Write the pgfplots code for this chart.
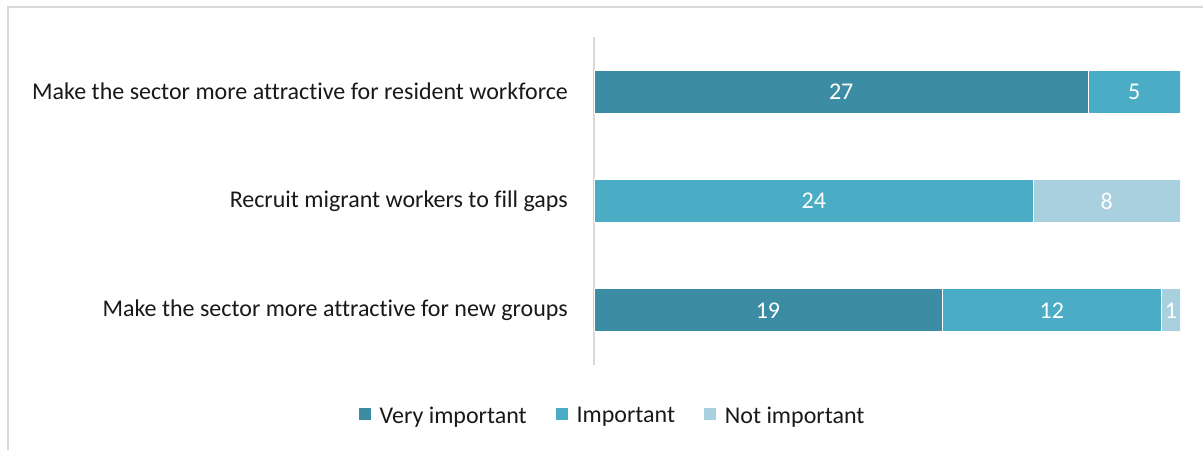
\documentclass[border=0pt]{standalone}
\usepackage{pgfplots}
\usepackage{pgfplotstable}
\pgfplotsset{compat=1.18}
\usepackage{fontspec}
\setmainfont[Ligatures=NoCommon]{Carlito}
\definecolor{cVery}{HTML}{3C8DA3}
\definecolor{cImp}{HTML}{4BACC6}
\definecolor{cNot}{HTML}{A9D0DE}
\definecolor{frame}{HTML}{D9D9D9}
\pgfplotstableread{
y v
0 27
1 0
2 19
}\tVery
\pgfplotstableread{
y v
0 5
1 24
2 12
}\tImp
\pgfplotstableread{
y v
0 0
1 8
2 1
}\tNot
\begin{document}
\begin{tikzpicture}[x=1pt,y=1pt]
\useasboundingbox (0,0) rectangle (1203,450);
\fill[white] (0,0) rectangle (1203,450);
\draw[frame,line width=1.2pt] (8,0) -- (8,443) -- (1203,443);
\begin{axis}[
  at={(594pt,85pt)}, anchor=south west,
  scale only axis, width=586pt, height=328pt,
  xbar stacked, bar width=43pt,
  xmin=0, xmax=32, ymin=-0.5, ymax=2.5,
  y dir=reverse,
  axis x line=none,
  axis y line*=left,
  y axis line style={frame, line width=1.2pt, -},
  ytick={0,1,2},
  yticklabels={Make the sector more attractive for resident workforce,Recruit migrant workers to fill gaps,Make the sector more attractive for new groups},
  major tick length=0pt,
  yticklabel style={font=\fontsize{24}{28}\selectfont, color=black!90, anchor=east, inner sep=0pt, xshift=-26pt},
  visualization depends on={\thisrow{v} \as \val},
  nodes near coords={\pgfmathtruncatemacro\iv{\val}\ifnum\iv>0 \iv\fi},
  every node near coord/.append style={font=\fontsize{24}{28}\selectfont, white, anchor=center, inner sep=0pt},
  legend columns=3,
  legend style={at={(0.031,-0.155)}, anchor=center, draw=none, fill=none, font=\fontsize{24}{28}\selectfont, text=black!90, /tikz/every even column/.append style={column sep=26pt}},
  legend image code/.code={\fill[#1] (0pt,-5pt) rectangle (13pt,8pt); \path (19pt,0pt);},
]
\addplot[fill=cVery, draw=white, line width=0.8pt] table[x=v,y=y] {\tVery};
\addplot[fill=cImp, draw=white, line width=0.8pt] table[x=v,y=y] {\tImp};
\addplot[fill=cNot, draw=white, line width=0.8pt] table[x=v,y=y] {\tNot};
\legend{Very important,Important,Not important}
\end{axis}
\end{tikzpicture}
\end{document}
